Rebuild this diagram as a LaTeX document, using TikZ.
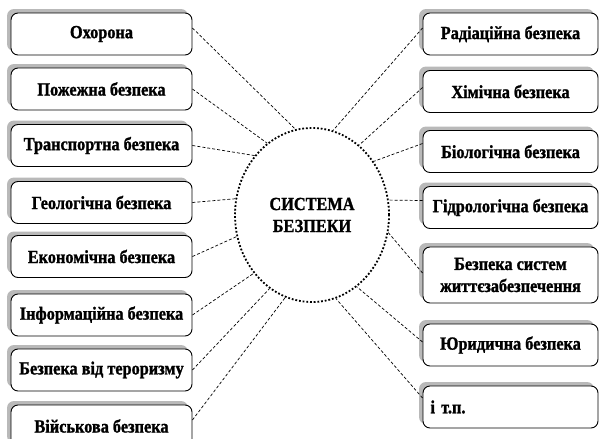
\documentclass[tikz,border=0pt]{standalone}
\usepackage{fontspec}
\setmainfont{Liberation Serif}[FakeStretch=0.88, BoldFeatures={FakeBold=1.3}]
\usetikzlibrary{shapes.geometric,shadows}
\begin{document}
\begin{tikzpicture}[x=1pt,y=-1pt,
  box/.style={draw, line width=0.9pt, rounded corners=7pt, fill=white,
    minimum height=42pt, inner sep=2pt, align=center,
    font=\bfseries\fontsize{18.5}{22}\selectfont,
    drop shadow={shadow xshift=-4pt, shadow yshift=4pt, fill=gray!55, opacity=1}},
  lbox/.style={box, minimum width=181pt},
  rbox/.style={box, minimum width=175pt},
  link/.style={dash pattern=on 3pt off 2pt, line width=0.7pt},
  core/.style={draw, ellipse, line width=1.8pt, dash pattern=on 1.8pt off 1.9pt,
    minimum width=154pt, minimum height=174pt, inner sep=0pt, align=center,
    font=\bfseries\fontsize{18.5}{22}\selectfont}]
\useasboundingbox (0,0) rectangle (600,439);

\node[lbox] (l1) at (101.5,34) {Охорона};
\node[lbox] (l2) at (101.5,89) {Пожежна безпека};
\node[lbox] (l3) at (101.5,145.5) {Транспортна безпека};
\node[lbox] (l4) at (101.5,202.5) {Геологічна безпека};
\node[lbox] (l5) at (101.5,256.5) {Економічна безпека};
\node[lbox] (l6) at (101.5,315) {Інформаційна безпека};
\node[lbox] (l7) at (101.5,370) {Безпека від тероризму};
\node[lbox] (l8) at (101.5,426) {Військова безпека};

\node[rbox] (r1) at (510.5,34) {Радіаційна безпека};
\node[rbox] (r2) at (510.5,91.5) {Хімічна безпека};
\node[rbox] (r3) at (510.5,151.5) {Біологічна безпека};
\node[rbox] (r4) at (510.5,207.5) {Гідрологічна безпека};
\node[rbox, minimum height=56pt] (r5) at (510.5,275) {Безпека систем\\життєзабезпечення};
\node[rbox] (r6) at (510.5,345) {Юридична безпека};
\node[rbox, text width=160pt, align=left] (r7) at (510.5,407) {і т.п.};

\node[core] (c) at (312,215) {СИСТЕМА\\БЕЗПЕКИ};

\draw[link] ([yshift=6pt]l1.east) -- (c.101);
\draw[link] (l2.east) -- (c.122);
\draw[link] (l3.east) -- (c.134.5);
\draw[link] (l4.east) -- (c.168);
\draw[link] (l5.east) -- (c.196);
\draw[link] (l6.east) -- (c.225.5);
\draw[link] (l7.east) -- (c.240);
\draw[link] ([yshift=6pt]l8.east) -- (c.252);

\draw[link] ([yshift=6pt]r1.west) -- (c.76);
\draw[link] ([yshift=4pt]r2.west) -- (c.56);
\draw[link] ([yshift=8pt]r3.west) -- (c.41);
\draw[link] ([yshift=7pt]r4.west) -- (c.11);
\draw[link] ([yshift=2pt]r5.west) -- (c.347);
\draw[link] ([yshift=3pt]r6.west) -- (c.302.6);
\draw[link] ([yshift=9pt]r7.west) -- (c.286);
\end{tikzpicture}
\end{document}
